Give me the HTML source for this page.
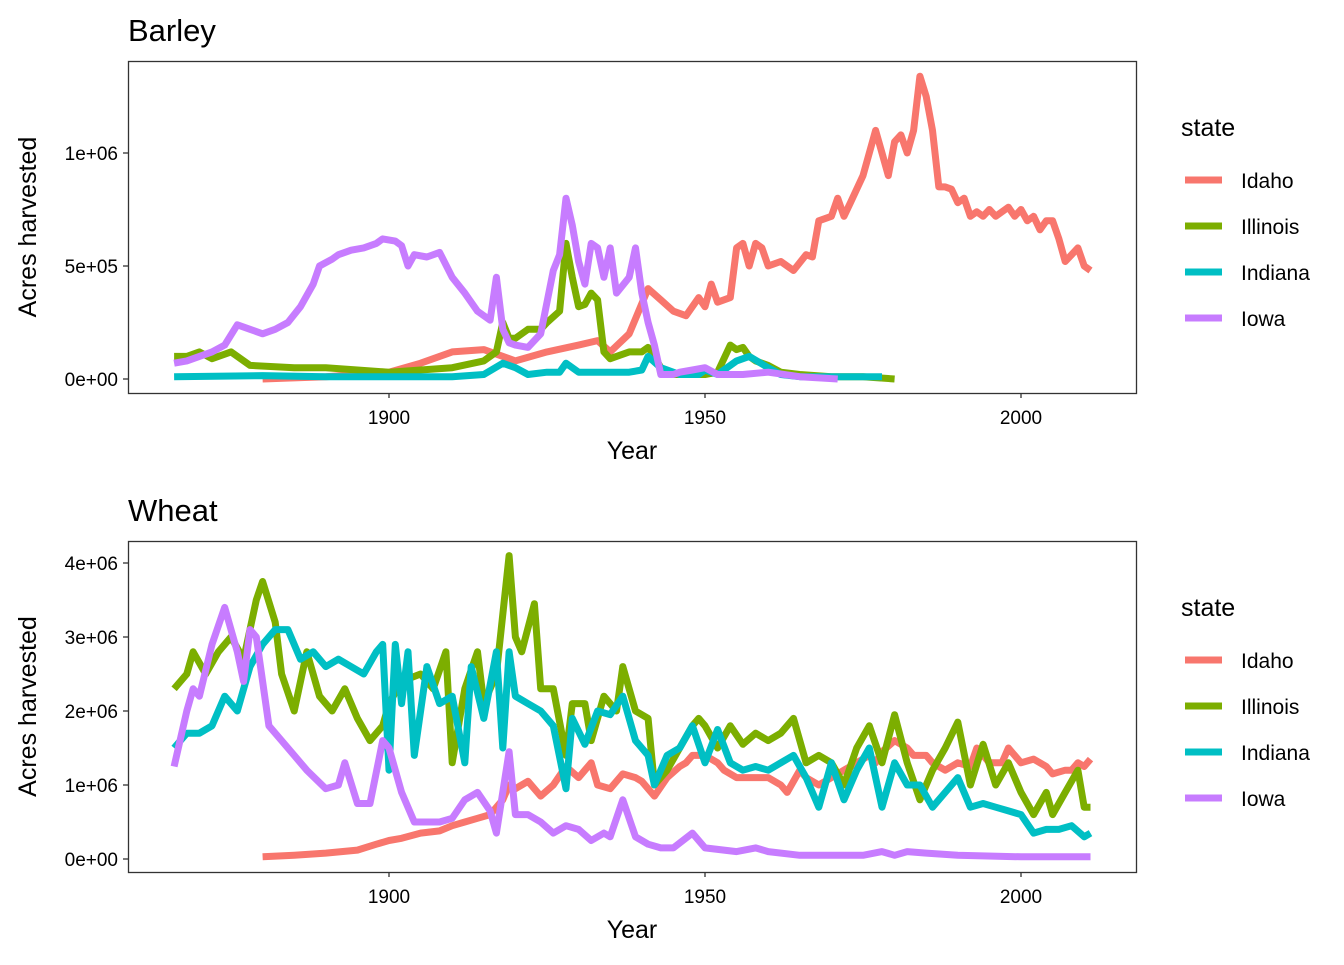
<!DOCTYPE html>
<html><head><meta charset="utf-8"><style>
body{margin:0;background:#fff}
svg text{font-family:"Liberation Sans",sans-serif;fill:#000}
</style></head><body>
<svg id="svg" width="1344" height="960" xmlns="http://www.w3.org/2000/svg"></svg>
<script>
const states=["Idaho","Illinois","Indiana","Iowa"];
const colors=["#F8766D","#7CAE00","#00BFC4","#C77CFF"];
const xTicks=[1900,1950,2000];
const barleyYTicks=[0,500000,1000000];
const barleyYLabels=["0e+00","5e+05","1e+06"];
const wheatYTicks=[0,1e6,2e6,3e6,4e6];
const wheatYLabels=["0e+00","1e+06","2e+06","3e+06","4e+06"];
// values in millions of acres, [year,value]
const barleyIdaho=[[1880,0.0],[1890,0.01],[1900,0.03],[1905,0.07],[1910,0.12],[1915,0.13],[1920,0.08],[1925,0.12],[1930,0.15],[1933,0.17],[1935,0.12],[1938,0.2],[1941,0.4],[1943,0.35],[1945,0.3],[1947,0.28],[1949,0.36],[1950,0.32],[1951,0.42],[1952,0.34],[1954,0.36],[1955,0.58],[1956,0.6],[1957,0.5],[1958,0.6],[1959,0.58],[1960,0.5],[1962,0.52],[1964,0.48],[1966,0.55],[1967,0.54],[1968,0.7],[1970,0.72],[1971,0.8],[1972,0.72],[1973,0.78],[1975,0.9],[1977,1.1],[1978,1.0],[1979,0.9],[1980,1.05],[1981,1.08],[1982,1.0],[1983,1.1],[1984,1.34],[1985,1.25],[1986,1.1],[1987,0.85],[1988,0.85],[1989,0.84],[1990,0.78],[1991,0.8],[1992,0.72],[1993,0.74],[1994,0.72],[1995,0.75],[1996,0.72],[1998,0.76],[1999,0.72],[2000,0.75],[2001,0.7],[2002,0.72],[2003,0.66],[2004,0.7],[2005,0.7],[2006,0.62],[2007,0.52],[2008,0.55],[2009,0.58],[2010,0.5],[2011,0.48]];
const barleyIllinois=[[1866,0.1],[1868,0.1],[1870,0.12],[1872,0.09],[1875,0.12],[1878,0.06],[1885,0.05],[1890,0.05],[1895,0.04],[1900,0.03],[1905,0.04],[1910,0.05],[1915,0.08],[1917,0.12],[1918,0.25],[1919,0.18],[1920,0.18],[1922,0.22],[1924,0.22],[1925,0.25],[1927,0.3],[1928,0.6],[1929,0.45],[1930,0.32],[1931,0.33],[1932,0.38],[1933,0.35],[1934,0.12],[1935,0.09],[1936,0.1],[1938,0.12],[1940,0.12],[1941,0.14],[1942,0.1],[1943,0.05],[1945,0.02],[1950,0.02],[1952,0.03],[1954,0.15],[1955,0.13],[1956,0.14],[1957,0.1],[1958,0.08],[1960,0.06],[1962,0.03],[1965,0.02],[1970,0.01],[1975,0.01],[1980,0.0]];
const barleyIndiana=[[1866,0.01],[1880,0.015],[1890,0.01],[1900,0.01],[1910,0.01],[1915,0.02],[1918,0.07],[1920,0.05],[1922,0.02],[1925,0.03],[1927,0.03],[1928,0.07],[1930,0.03],[1935,0.03],[1938,0.03],[1940,0.04],[1941,0.1],[1943,0.05],[1946,0.02],[1949,0.02],[1950,0.04],[1952,0.02],[1955,0.08],[1957,0.1],[1960,0.05],[1962,0.02],[1965,0.01],[1970,0.01],[1978,0.01]];
const barleyIowa=[[1866,0.07],[1868,0.08],[1870,0.1],[1872,0.12],[1874,0.15],[1876,0.24],[1878,0.22],[1880,0.2],[1882,0.22],[1884,0.25],[1886,0.32],[1888,0.42],[1889,0.5],[1891,0.53],[1892,0.55],[1894,0.57],[1896,0.58],[1898,0.6],[1899,0.62],[1901,0.61],[1902,0.59],[1903,0.5],[1904,0.55],[1906,0.54],[1908,0.56],[1910,0.45],[1912,0.38],[1914,0.3],[1915,0.28],[1916,0.26],[1917,0.45],[1918,0.22],[1919,0.16],[1920,0.15],[1922,0.14],[1924,0.2],[1926,0.48],[1927,0.55],[1928,0.8],[1929,0.68],[1930,0.52],[1931,0.42],[1932,0.6],[1933,0.58],[1934,0.45],[1935,0.58],[1936,0.38],[1938,0.45],[1939,0.58],[1940,0.38],[1941,0.25],[1942,0.15],[1943,0.02],[1945,0.02],[1946,0.03],[1948,0.04],[1950,0.05],[1952,0.02],[1956,0.02],[1960,0.03],[1965,0.01],[1971,0.0]];
const wheatIdaho=[[1880,0.03],[1885,0.05],[1890,0.08],[1895,0.12],[1898,0.2],[1900,0.25],[1902,0.28],[1905,0.35],[1908,0.38],[1910,0.45],[1912,0.5],[1914,0.55],[1916,0.6],[1918,0.8],[1919,1.0],[1920,0.95],[1922,1.05],[1924,0.85],[1926,1.0],[1928,1.25],[1930,1.1],[1931,1.2],[1932,1.3],[1933,1.0],[1935,0.95],[1937,1.15],[1939,1.1],[1940,1.05],[1942,0.85],[1944,1.1],[1946,1.25],[1947,1.3],[1948,1.4],[1950,1.4],[1952,1.3],[1953,1.2],[1955,1.1],[1958,1.1],[1960,1.1],[1962,1.0],[1963,0.9],[1965,1.2],[1966,1.1],[1968,1.0],[1970,1.1],[1972,1.2],[1974,1.3],[1976,1.4],[1977,1.3],[1978,1.45],[1980,1.6],[1982,1.5],[1983,1.4],[1985,1.4],[1986,1.3],[1988,1.2],[1990,1.3],[1992,1.25],[1993,1.5],[1994,1.4],[1995,1.3],[1997,1.3],[1998,1.5],[2000,1.3],[2002,1.35],[2004,1.25],[2005,1.15],[2007,1.2],[2008,1.2],[2009,1.3],[2010,1.25],[2011,1.35]];
const wheatIllinois=[[1866,2.3],[1868,2.5],[1869,2.8],[1871,2.5],[1873,2.8],[1875,3.0],[1877,2.7],[1879,3.5],[1880,3.75],[1882,3.2],[1883,2.5],[1885,2.0],[1887,2.8],[1889,2.2],[1891,2.0],[1893,2.3],[1895,1.9],[1897,1.6],[1899,1.8],[1900,2.1],[1902,2.4],[1905,2.5],[1907,2.3],[1909,2.8],[1910,1.3],[1912,2.3],[1914,2.8],[1915,2.1],[1917,2.5],[1919,4.1],[1920,3.0],[1921,2.8],[1923,3.45],[1924,2.3],[1926,2.3],[1928,1.4],[1929,2.1],[1931,2.1],[1932,1.6],[1934,2.2],[1936,2.0],[1937,2.6],[1939,2.0],[1941,1.9],[1942,1.0],[1944,1.2],[1946,1.5],[1948,1.8],[1949,1.9],[1950,1.8],[1952,1.5],[1954,1.8],[1956,1.55],[1958,1.7],[1960,1.6],[1962,1.7],[1964,1.9],[1966,1.3],[1968,1.4],[1970,1.3],[1972,1.0],[1974,1.5],[1976,1.8],[1978,1.3],[1980,1.95],[1982,1.3],[1984,0.8],[1986,1.2],[1988,1.5],[1990,1.85],[1992,1.0],[1994,1.55],[1996,1.0],[1998,1.3],[2000,0.9],[2002,0.6],[2004,0.9],[2005,0.6],[2007,0.9],[2009,1.2],[2010,0.7],[2011,0.7]];
const wheatIndiana=[[1866,1.5],[1868,1.7],[1870,1.7],[1872,1.8],[1874,2.2],[1876,2.0],[1878,2.6],[1880,2.9],[1882,3.1],[1884,3.1],[1886,2.7],[1888,2.8],[1890,2.6],[1892,2.7],[1894,2.6],[1896,2.5],[1898,2.8],[1899,2.9],[1900,1.2],[1901,2.9],[1902,2.1],[1903,2.8],[1904,1.4],[1906,2.6],[1908,2.1],[1910,2.2],[1912,1.3],[1913,2.6],[1915,1.9],[1917,2.8],[1918,1.5],[1919,2.8],[1920,2.2],[1922,2.1],[1924,2.0],[1926,1.8],[1928,0.95],[1929,1.9],[1931,1.55],[1933,2.0],[1935,1.95],[1937,2.2],[1939,1.6],[1941,1.4],[1942,1.0],[1944,1.4],[1946,1.5],[1948,1.8],[1950,1.3],[1952,1.75],[1954,1.3],[1956,1.2],[1958,1.25],[1960,1.2],[1962,1.3],[1964,1.4],[1966,1.1],[1968,0.7],[1970,1.3],[1972,0.8],[1974,1.2],[1976,1.5],[1978,0.7],[1980,1.3],[1982,1.0],[1984,1.0],[1986,0.7],[1988,0.9],[1990,1.1],[1992,0.7],[1994,0.75],[1996,0.7],[1998,0.65],[2000,0.6],[2002,0.35],[2004,0.4],[2006,0.4],[2008,0.45],[2010,0.3],[2011,0.35]];
const wheatIowa=[[1866,1.25],[1868,2.0],[1869,2.3],[1870,2.2],[1872,2.9],[1874,3.4],[1876,2.8],[1877,2.4],[1878,3.1],[1879,3.0],[1881,1.8],[1883,1.6],[1885,1.4],[1887,1.2],[1890,0.95],[1892,1.0],[1893,1.3],[1895,0.75],[1897,0.75],[1899,1.6],[1900,1.5],[1902,0.9],[1904,0.5],[1906,0.5],[1908,0.5],[1910,0.55],[1912,0.8],[1914,0.9],[1916,0.65],[1917,0.35],[1919,1.45],[1920,0.6],[1922,0.6],[1924,0.5],[1926,0.35],[1928,0.45],[1930,0.4],[1932,0.25],[1934,0.35],[1935,0.3],[1937,0.8],[1939,0.3],[1941,0.2],[1943,0.15],[1945,0.15],[1948,0.35],[1950,0.15],[1955,0.1],[1958,0.15],[1960,0.1],[1965,0.05],[1970,0.05],[1975,0.05],[1978,0.1],[1980,0.05],[1982,0.1],[1985,0.08],[1990,0.05],[2000,0.03],[2011,0.03]];

const svg=document.getElementById('svg');
const NS="http://www.w3.org/2000/svg";
function mk(tag,attrs,parent,text){const e=document.createElementNS(NS,tag);for(const k in attrs)e.setAttribute(k,attrs[k]);if(text!==undefined)e.textContent=text;(parent||svg).appendChild(e);return e;}
const xScale=y=>389+(y-1900)*6.32;

function panel(name,title,top,bottom,y0,pxPerM,yTicks,yLabels,series){
  const g=mk('g',{});
  
  
  const yScale=v=>y0-v*pxPerM;
  const t=mk('text',{x:128,y:top-20,'font-size':31},g,title);
  
  series.forEach((s,i)=>{
    const d=s.map((p,j)=>(j?'L':'M')+xScale(p[0]).toFixed(1)+','+yScale(p[1]).toFixed(1)).join('');
    const p=mk('path',{d:d,fill:'none',stroke:colors[i],'stroke-width':7,'stroke-linejoin':'round','stroke-linecap':'butt'},g);
    
    
  });
  const r=mk('rect',{x:128.5,y:top+0.5,width:1008,height:bottom-top,fill:'none',stroke:'#333','stroke-width':1.3},g);
  
  yTicks.forEach((v,i)=>{
    const y=yScale(v/1e6);
    mk('line',{x1:123,x2:128,y1:y,y2:y,stroke:'#333','stroke-width':1.3},g);
    const l=mk('text',{x:118,y:y+7,'font-size':19,'text-anchor':'end',fill:'#333'},g,yLabels[i]);
    
  });
  xTicks.forEach(v=>{
    const x=xScale(v);
    mk('line',{x1:x,x2:x,y1:bottom,y2:bottom+5,stroke:'#333','stroke-width':1.3},g);
    const l=mk('text',{x:x,y:bottom+31,'font-size':19,'text-anchor':'middle'},g,String(v));
    
  });
  const xt=mk('text',{x:632,y:bottom+66,'font-size':25,'text-anchor':'middle'},g,'Year');
  
  const cy=(top+bottom)/2;
  const yt=mk('text',{x:0,y:0,'font-size':25,'text-anchor':'middle',transform:`translate(36,${cy}) rotate(-90)`},g,'Acres harvested');
  
  const lg=mk('g',{},g);
  
  const lt=top+69;
  mk('text',{x:1181,y:lt+6,'font-size':25},lg,'state');
  states.forEach((s,i)=>{
    const y=lt+50+i*46;
    const k=mk('line',{x1:1185,x2:1222,y1:y,y2:y,stroke:colors[i],'stroke-width':7},lg);
    
    const tx=mk('text',{x:1241,y:y+8,'font-size':21},lg,s);
    
  });
}
panel('barley','Barley',61,393,379,226,barleyYTicks,barleyYLabels,[barleyIdaho,barleyIllinois,barleyIndiana,barleyIowa]);
panel('wheat','Wheat',541,872,859,74,wheatYTicks,wheatYLabels,[wheatIdaho,wheatIllinois,wheatIndiana,wheatIowa]);
</script>
</body></html>
